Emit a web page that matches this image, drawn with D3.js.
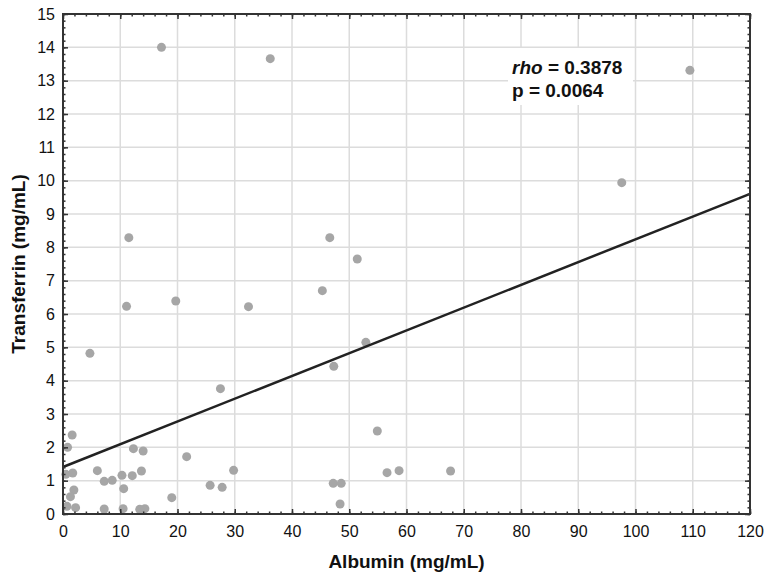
<!DOCTYPE html>
<html>
<head>
<meta charset="utf-8">
<script src="https://cdn.jsdelivr.net/npm/d3@7"></script>
<style>
  body { margin: 0; background: #fff; }
  text { font-family: "Liberation Sans", Arial, sans-serif; }
</style>
</head>
<body>
<div id="chart"></div>
<script>
// values
const albumin = [0.8, 1.6, 0.5, 1.7, 1.9, 1.3, 0.7, 2.2, 4.7, 6.0, 7.2, 8.6, 7.2, 10.3, 10.6, 10.5,
    12.1, 12.3, 14.0, 13.7, 13.4, 14.3, 11.1, 11.5, 17.2, 19.0, 19.7, 21.6, 25.7, 27.5, 27.8, 29.8,
    32.4, 36.2, 45.3, 46.6, 47.3, 47.2, 48.6, 48.4, 51.4, 52.9, 54.9, 56.6, 58.7, 67.7, 97.6, 109.5];
const transferrin = [2.00, 2.37, 1.19, 1.23, 0.72, 0.52, 0.23, 0.19, 4.82, 1.30, 0.98, 1.01, 0.15, 1.16, 0.76, 0.16,
    1.15, 1.96, 1.89, 1.29, 0.14, 0.16, 6.23, 8.29, 14.0, 0.49, 6.39, 1.72, 0.86, 3.76, 0.80, 1.31,
    6.22, 13.66, 6.70, 8.29, 4.43, 0.92, 0.92, 0.30, 7.65, 5.15, 2.49, 1.24, 1.30, 1.29, 9.94, 13.31];
const fitLine = {intercept: 1.41, slope: 0.0683};
const xTicks = [0, 10, 20, 30, 40, 50, 60, 70, 80, 90, 100, 110, 120];
const yTicks = [0, 1, 2, 3, 4, 5, 6, 7, 8, 9, 10, 11, 12, 13, 14, 15];
const statLines = [["rho", " = 0.3878"], ["p", " = 0.0064"]];

const W = 768, H = 578;
const margin = {top: 14, right: 18, bottom: 64, left: 63};
const width = W - margin.left - margin.right;
const height = H - margin.top - margin.bottom;

const svg = d3.select("#chart").append("svg")
    .attr("width", W).attr("height", H);
const g = svg.append("g")
    .attr("transform", `translate(${margin.left},${margin.top})`);

const x = d3.scaleLinear().domain([0, 120]).range([0, width]);
const y = d3.scaleLinear().domain([0, 15]).range([height, 0]);

// grid
g.append("g").selectAll("line").data(xTicks.slice(1, -1)).join("line")
    .attr("x1", d => x(d)).attr("x2", d => x(d))
    .attr("y1", 0).attr("y2", height)
    .attr("stroke", "#dcdcdc").attr("stroke-width", 1.5);
g.append("g").selectAll("line").data(yTicks.slice(1, -1)).join("line")
    .attr("y1", d => y(d)).attr("y2", d => y(d))
    .attr("x1", 0).attr("x2", width)
    .attr("stroke", "#dcdcdc").attr("stroke-width", 1.5);

// white box behind the stats text
g.append("rect")
    .attr("x", 445).attr("y", 34).attr("width", 125).attr("height", 57)
    .attr("fill", "#fff");

// points
g.append("g").selectAll("circle").data(albumin).join("circle")
    .attr("cx", d => x(d))
    .attr("cy", (d, i) => y(transferrin[i]))
    .attr("r", 4.5)
    .attr("fill", "#a6a6a6");

// regression line
g.append("line")
    .attr("x1", x(0)).attr("y1", y(fitLine.intercept))
    .attr("x2", x(120)).attr("y2", y(fitLine.intercept + fitLine.slope * 120))
    .attr("stroke", "#222").attr("stroke-width", 2.5);

// stats text
const st = g.append("g").attr("font-size", 19).attr("font-weight", "bold").attr("fill", "#111");
statLines.forEach((s, i) => {
    const t = st.append("text").attr("x", 449).attr("y", 60 + i * 22.5);
    t.append("tspan").attr("font-style", i === 0 ? "italic" : "normal").text(s[0]);
    t.append("tspan").text(s[1]);
});

// axes, ticks pointing inward
const axisColor = "#333";
function styleAxis(sel) {
    sel.select(".domain").remove();
    sel.selectAll("line").attr("stroke", axisColor).attr("stroke-width", 1.5);
    sel.selectAll("text").attr("font-size", 16).attr("fill", "#111")
        .attr("font-family", "Liberation Sans, Arial, sans-serif");
}
const minorX = d3.range(0, 121, 2), minorY = d3.range(0, 15.01, 0.2);

g.append("g").attr("transform", `translate(0,${height})`)
    .call(d3.axisBottom(x).tickValues(xTicks).tickSize(-5).tickPadding(12))
    .call(styleAxis);
g.append("g").attr("transform", `translate(0,${height})`)
    .call(d3.axisBottom(x).tickValues(minorX).tickSize(-2.5).tickFormat(""))
    .call(styleAxis);
g.append("g")
    .call(d3.axisTop(x).tickValues(xTicks).tickSize(-5).tickFormat(""))
    .call(styleAxis);
g.append("g")
    .call(d3.axisTop(x).tickValues(minorX).tickSize(-2.5).tickFormat(""))
    .call(styleAxis);

g.append("g")
    .call(d3.axisLeft(y).tickValues(yTicks).tickSize(-5).tickPadding(8))
    .call(styleAxis);
g.append("g")
    .call(d3.axisLeft(y).tickValues(minorY).tickSize(-2.5).tickFormat(""))
    .call(styleAxis);
g.append("g").attr("transform", `translate(${width},0)`)
    .call(d3.axisRight(y).tickValues(yTicks).tickSize(-5).tickFormat(""))
    .call(styleAxis);
g.append("g").attr("transform", `translate(${width},0)`)
    .call(d3.axisRight(y).tickValues(minorY).tickSize(-2.5).tickFormat(""))
    .call(styleAxis);

// frame
g.append("rect")
    .attr("width", width).attr("height", height)
    .attr("fill", "none").attr("stroke", axisColor).attr("stroke-width", 2);

// axis titles
svg.append("text")
    .attr("x", margin.left + width / 2).attr("y", 568)
    .attr("text-anchor", "middle")
    .attr("font-size", 19).attr("font-weight", "bold").attr("fill", "#111")
    .text("Albumin (mg/mL)");
svg.append("text")
    .attr("transform", `translate(25,${margin.top + height / 2}) rotate(-90)`)
    .attr("text-anchor", "middle")
    .attr("font-size", 19).attr("font-weight", "bold").attr("fill", "#111")
    .text("Transferrin (mg/mL)");
</script>
</body>
</html>
